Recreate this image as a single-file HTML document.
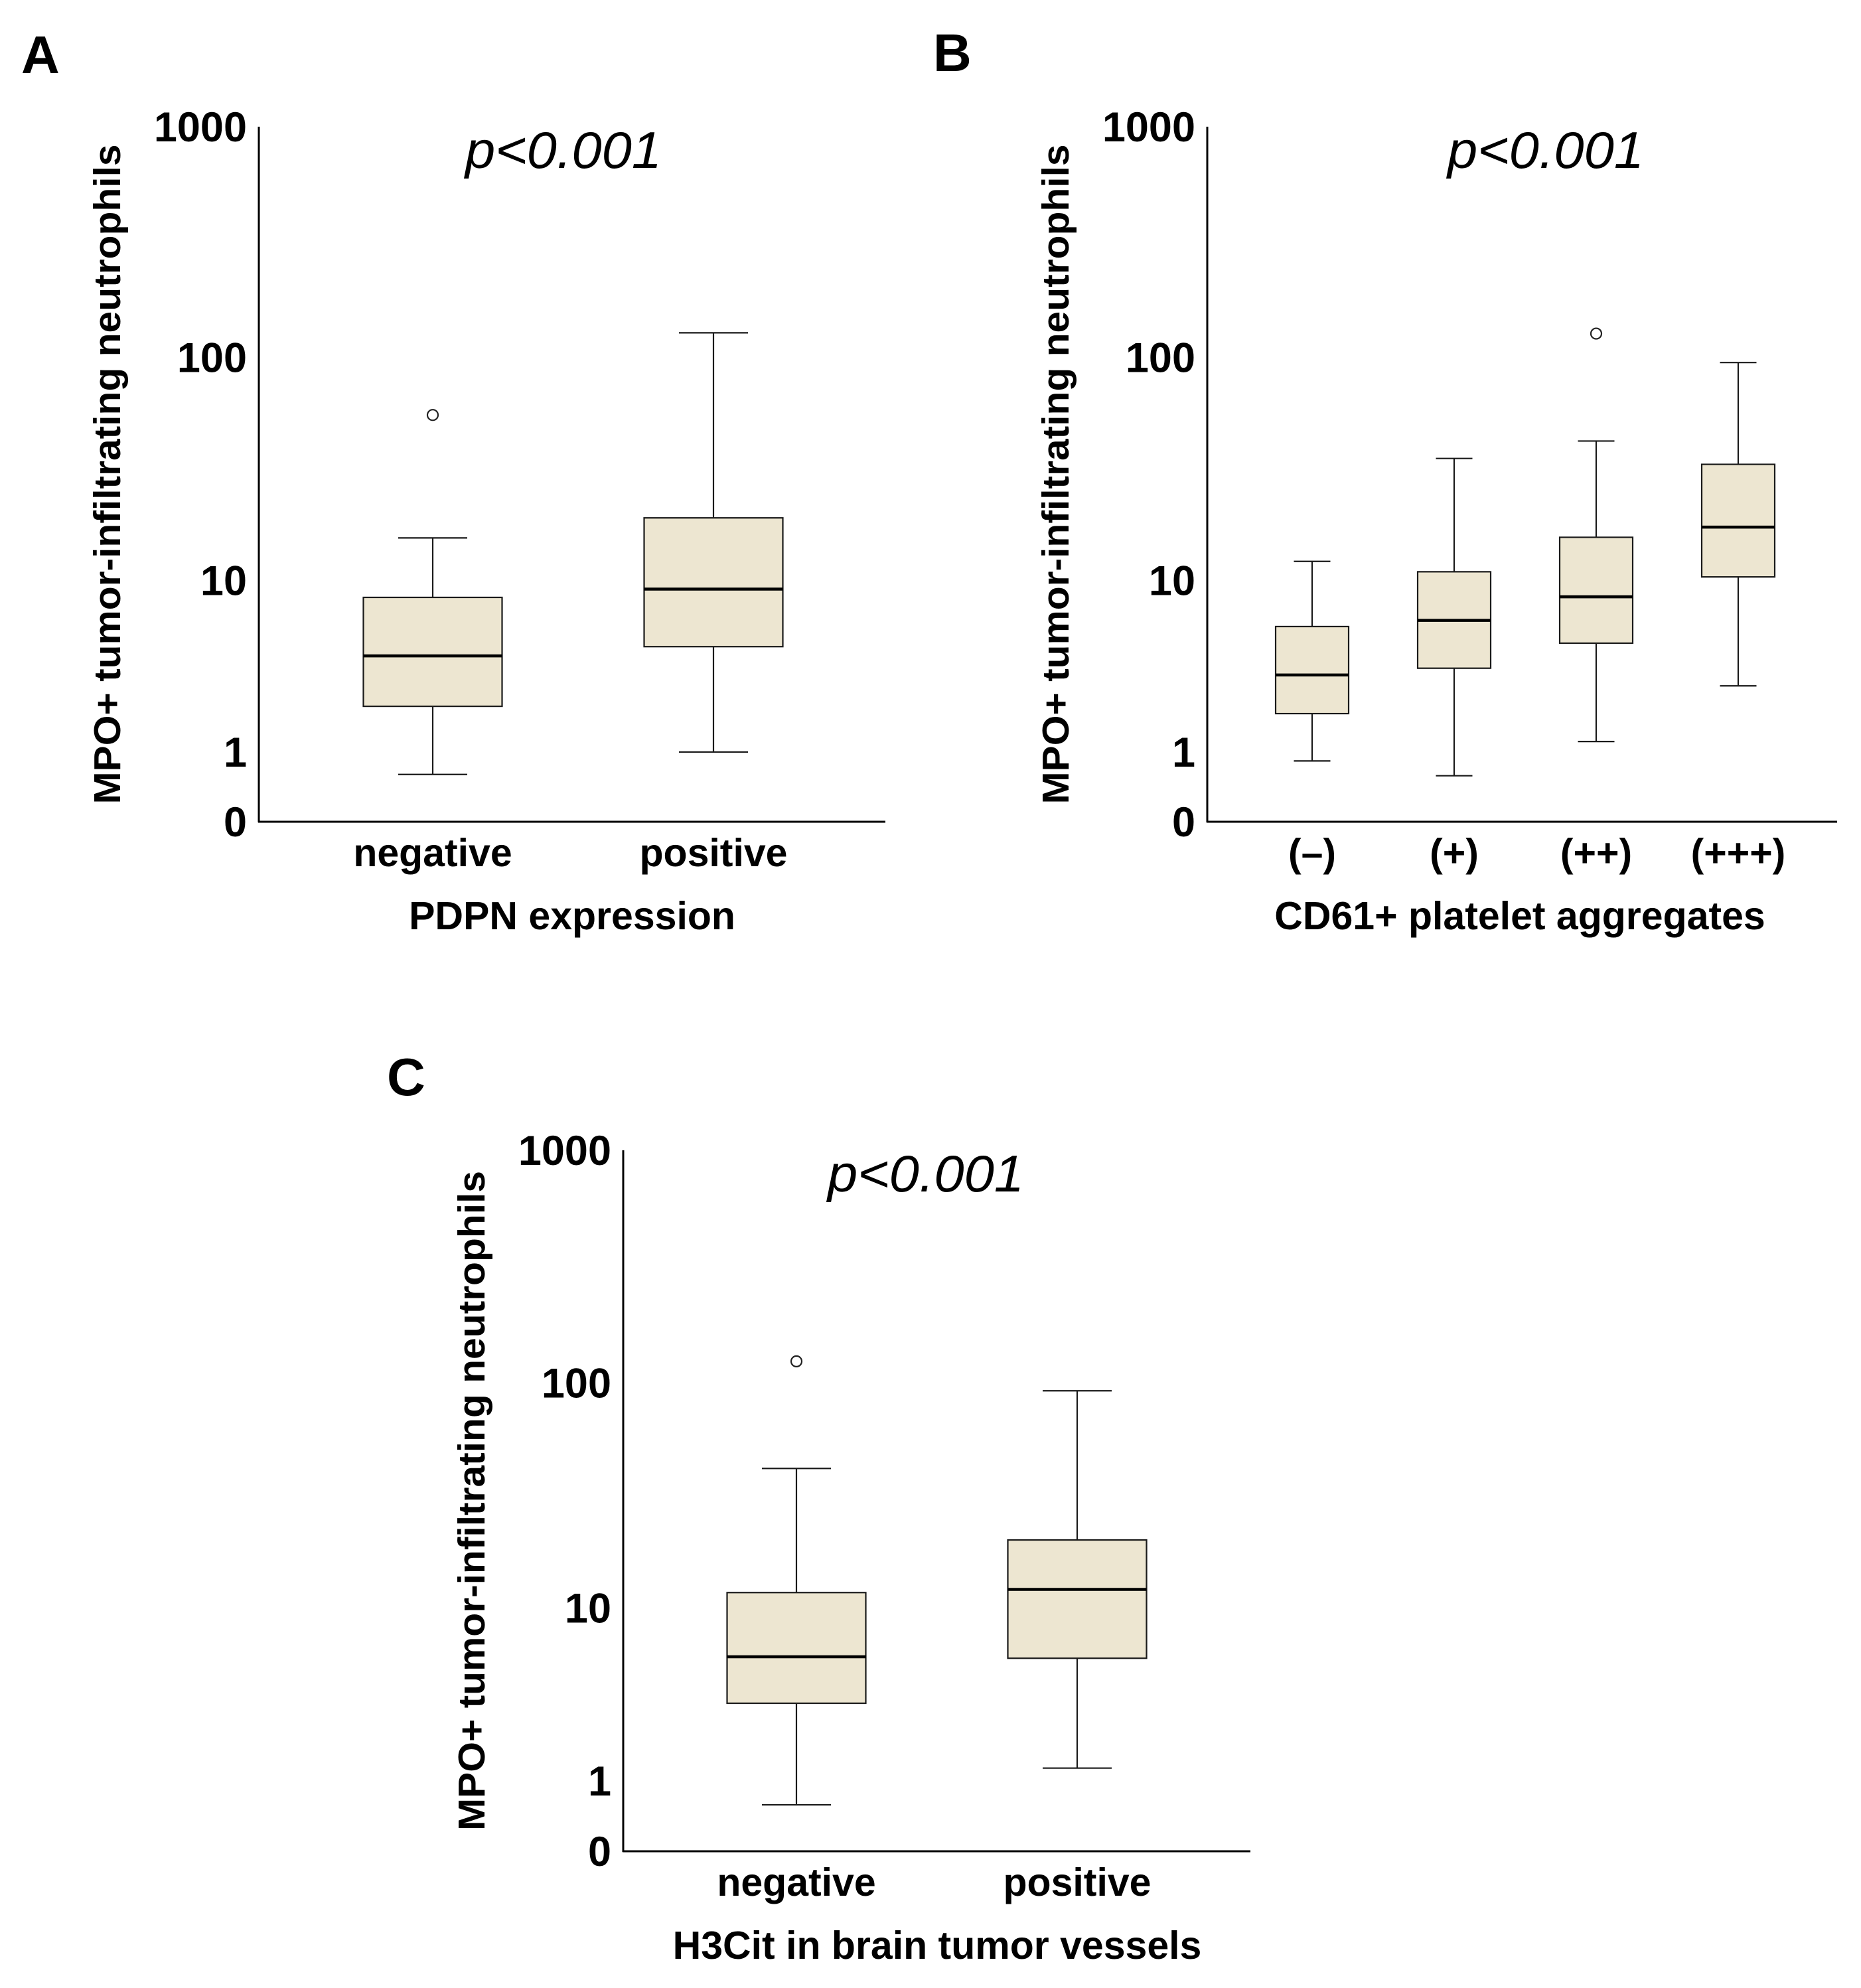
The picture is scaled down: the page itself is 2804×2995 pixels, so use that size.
<!DOCTYPE html>
<html><head><meta charset="utf-8"><style>
html,body{margin:0;padding:0;background:#fff;}
svg{display:block;font-family:"Liberation Sans",Arial,sans-serif;}
</style></head><body>
<svg id="fig" width="2804" height="2995" viewBox="0 0 2804 2995" xmlns="http://www.w3.org/2000/svg"></svg>
<script>
// Panel A
const catsA = ["negative","positive"];
const lowA = [0.6, 1.0];
const q1A = [2.15, 4.7];
const medA = [4.2, 9.1];
const q3A = [8.3, 19.5];
const highA = [15.8, 128];
const outA = [[56], []];
// Panel B
const catsB = ["(\u2013)","(+)","(++)","(+++)"];
const lowB = [0.83, 0.58, 1.22, 2.86];
const q1B = [1.93, 3.6, 4.9, 10.4];
const medB = [3.3, 6.4, 8.35, 17.7];
const q3B = [5.96, 11, 15.9, 33.9];
const highB = [12.3, 36, 43, 95];
const outB = [[], [], [127], []];
// Panel C
const catsC = ["negative","positive"];
const lowC = [0.58, 1.27];
const q1C = [3.3, 5.7];
const medC = [5.8, 12.2];
const q3C = [11.8, 20.5];
const highC = [42.5, 92.5];
const outC = [[124], []];
// Tick labels
const tickVals = [0, 1, 10, 100, 1000];
const tickLabels = ["0","1","10","100","1000"];

const NS = "http://www.w3.org/2000/svg";
const svg = document.getElementById('fig');
function mk(tag, attrs, parent, text){
  const e = document.createElementNS(NS, tag);
  for (const k in attrs) e.setAttribute(k, attrs[k]);
  if (text !== undefined) e.textContent = text;
  (parent||svg).appendChild(e);
  return e;
}

function panel(cfg){
  const g = mk('g', {});
  
  
  const y0 = cfg.y0, k = cfg.k;
  const yScale = v => y0 - Math.log10(v + 1) * k;
  const xScale = i => cfg.x0 + cfg.first + i * cfg.step;
  const L = mk('text', {x: cfg.letterX, y: cfg.letterY, 'font-size': 80, 'font-weight': 'bold', fill: '#000'}, g, cfg.letter);
  
  
  const top = yScale(1000);
  const ya = mk('line', {x1: cfg.x0, y1: top, x2: cfg.x0, y2: y0 + 1, stroke: '#000', 'stroke-width': 3}, g);
  
  
  const xa = mk('line', {x1: cfg.x0 - 1, y1: y0, x2: cfg.xEnd, y2: y0, stroke: '#000', 'stroke-width': 3}, g);
  
  
  tickVals.forEach((v, i) => {
    const t = mk('text', {x: cfg.x0 - 18, y: yScale(v) + 22, 'font-size': 63, 'font-weight': 'bold', 'text-anchor': 'end', fill: '#000'}, g, tickLabels[i]);
    
    
  });
  const yt = mk('text', {x: 0, y: 0, 'font-size': 57, 'font-weight': 'bold', 'text-anchor': 'middle', fill: '#000', transform: `translate(${cfg.yTitleX},${(top + y0) / 2}) rotate(-90)`, textLength: 994, lengthAdjust: 'spacingAndGlyphs'}, g, 'MPO+ tumor-infiltrating neutrophils');
  
  
  const p = mk('text', {x: cfg.pX, y: top + 62, 'font-size': 78, 'font-style': 'italic', 'text-anchor': 'middle', fill: '#000', textLength: 296, lengthAdjust: 'spacingAndGlyphs'}, g, 'p<0.001');
  
  
  cfg.cats.forEach((c, i) => {
    const cx = xScale(i), hw = cfg.bw / 2, cw = cfg.cw / 2;
    const bg = mk('g', {}, g);
    
    
    const st = {stroke: '#1a1a1a', 'stroke-width': 2.2};
    mk('line', Object.assign({x1: cx, y1: yScale(cfg.high[i]), x2: cx, y2: yScale(cfg.q3[i])}, st), bg);
    mk('line', Object.assign({x1: cx, y1: yScale(cfg.q1[i]), x2: cx, y2: yScale(cfg.low[i])}, st), bg);
    mk('line', Object.assign({x1: cx - cw, y1: yScale(cfg.high[i]), x2: cx + cw, y2: yScale(cfg.high[i])}, st), bg);
    mk('line', Object.assign({x1: cx - cw, y1: yScale(cfg.low[i]), x2: cx + cw, y2: yScale(cfg.low[i])}, st), bg);
    mk('rect', Object.assign({x: cx - hw, y: yScale(cfg.q3[i]), width: cfg.bw, height: yScale(cfg.q1[i]) - yScale(cfg.q3[i]), fill: '#ede6d1'}, st), bg);
    mk('line', {x1: cx - hw, y1: yScale(cfg.med[i]), x2: cx + hw, y2: yScale(cfg.med[i]), stroke: '#000', 'stroke-width': 4.5}, bg);
    cfg.out[i].forEach(o => {
      const c2 = mk('circle', {cx: cx, cy: yScale(o), r: 8, fill: '#fff', stroke: '#222', 'stroke-width': 2.2}, bg);
      
      
    });
    const lab = mk('text', {x: cx, y: y0 + 67, 'font-size': 59, 'font-weight': 'bold', 'text-anchor': 'middle', fill: '#000'}, g, c);
    
    
  });
  const xt = mk('text', {x: cfg.xTitleX, y: y0 + 162, 'font-size': 59, 'font-weight': 'bold', 'text-anchor': 'middle', fill: '#000'}, g, cfg.xTitle);
  
  
}

panel({name: 'panel-a', letter: 'A', letterX: 32, letterY: 110, x0: 390, k: 349, y0: 1238, xEnd: 1334,
  first: 262, step: 423, bw: 209, cw: 104, pX: 849, yTitleX: 181, xTitleX: 862, xTitle: 'PDPN expression',
  cats: catsA, low: lowA, q1: q1A, med: medA, q3: q3A, high: highA, out: outA});
panel({name: 'panel-b', letter: 'B', letterX: 1406, letterY: 107, x0: 1819, k: 349, y0: 1238, xEnd: 2768,
  first: 158, step: 214, bw: 110, cw: 55, pX: 2329, yTitleX: 1610, xTitleX: 2290, xTitle: 'CD61+ platelet aggregates',
  cats: catsB, low: lowB, q1: q1B, med: medB, q3: q3B, high: highB, out: outB});
panel({name: 'panel-c', letter: 'C', letterX: 583, letterY: 1650, x0: 939, k: 352, y0: 2789, xEnd: 1884,
  first: 261, step: 423, bw: 209, cw: 104, pX: 1395, yTitleX: 730, xTitleX: 1412, xTitle: 'H3Cit in brain tumor vessels',
  cats: catsC, low: lowC, q1: q1C, med: medC, q3: q3C, high: highC, out: outC});
</script>
</body></html>
